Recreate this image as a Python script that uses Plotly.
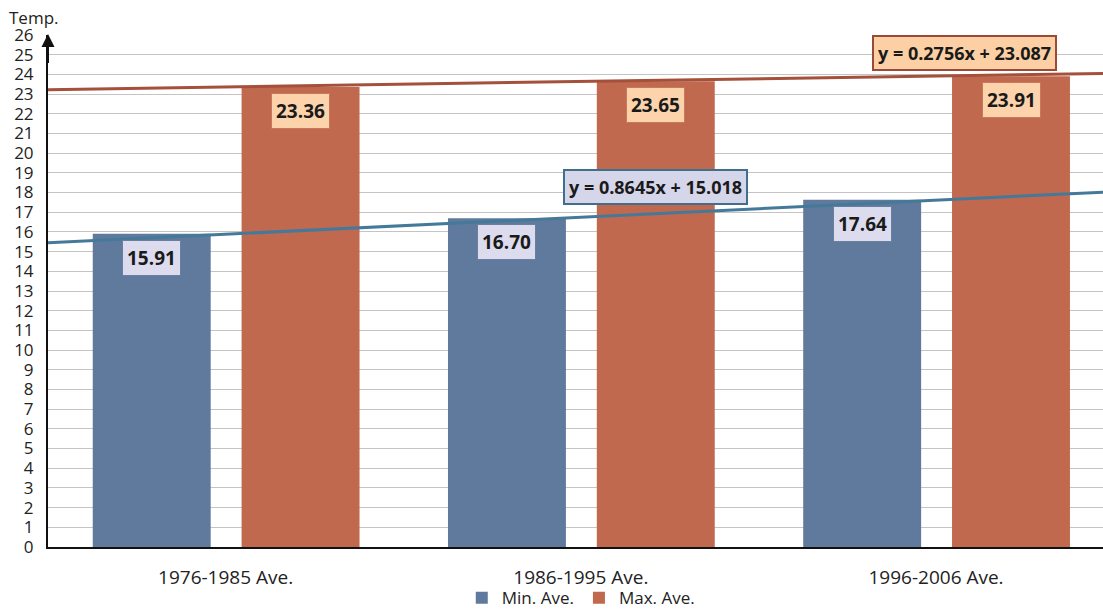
import plotly.graph_objects as go

# Period averages (temperature)
periods = ["1976-1985 Ave.", "1986-1995 Ave.", "1996-2006 Ave."]
min_ave = [15.91, 16.70, 17.64]
max_ave = [23.36, 23.65, 23.91]

# Linear trend coefficients (x = 1, 2, 3 for the three periods)
min_slope, min_icpt = 0.8645, 15.018
max_slope, max_icpt = 0.2756, 23.087

y_ticks = list(range(0, 27))

BLUE = "#5f7a9c"
RED = "#c0694f"
BLUE_LINE = "#45799a"
RED_LINE = "#a4503b"
FONT = "Open Sans"

xpos = list(range(len(periods)))
bar_w = 0.332
min_off, max_off = -0.374, 0.045

fig = go.Figure()
fig.add_trace(go.Bar(
    x=xpos, y=min_ave, name="Min. Ave.", marker_color=BLUE,
    width=bar_w, offset=min_off, marker_line_width=0,
))
fig.add_trace(go.Bar(
    x=xpos, y=max_ave, name="Max. Ave.", marker_color=RED,
    width=bar_w, offset=max_off, marker_line_width=0,
))

# Trend lines across the full plot width
tx = [-0.5, 2.6]
fig.add_trace(go.Scatter(
    x=tx, y=[min_slope * (v + 1) + min_icpt for v in tx], mode="lines",
    line=dict(color=BLUE_LINE, width=3), showlegend=False, hoverinfo="skip",
))
fig.add_trace(go.Scatter(
    x=tx, y=[max_slope * (v + 1) + max_icpt for v in tx], mode="lines",
    line=dict(color=RED_LINE, width=3), showlegend=False, hoverinfo="skip",
))

annotations = []
# Value labels just below the bar tops
for i, v in enumerate(min_ave):
    annotations.append(dict(
        x=i + min_off + bar_w / 2, y=v, xref="x", yref="y", yshift=-24,
        text=f"<b>{v:.2f}</b>", showarrow=False,
        font=dict(family=FONT, size=19, color="#1a1a1a"),
        bgcolor="#dcdcee", bordercolor="#6a7f9f", borderwidth=1, borderpad=4,
    ))
for i, v in enumerate(max_ave):
    annotations.append(dict(
        x=i + max_off + bar_w / 2, y=v, xref="x", yref="y", yshift=-24,
        text=f"<b>{v:.2f}</b>", showarrow=False,
        font=dict(family=FONT, size=19, color="#1a1a1a"),
        bgcolor="#fcd3aa", bordercolor="#c8785c", borderwidth=1, borderpad=4,
    ))

# Trend equations
annotations.append(dict(
    x=1.21, y=18.27, xref="x", yref="y",
    text=f"<b>y = {min_slope}x + {min_icpt:.3f}</b>", showarrow=False,
    font=dict(family=FONT, size=18, color="#1a1a1a"),
    bgcolor="#d6d6ea", bordercolor="#3f6f8c", borderwidth=2, borderpad=4,
))
annotations.append(dict(
    x=2.08, y=25.08, xref="x", yref="y",
    text=f"<b>y = {max_slope}x + {max_icpt:.3f}</b>", showarrow=False,
    font=dict(family=FONT, size=18, color="#1a1a1a"),
    bgcolor="#fcd0a4", bordercolor="#9c4a38", borderwidth=2, borderpad=4,
))

# Y-axis arrow
annotations.append(dict(
    x=-0.5, y=26.05, ax=-0.5, ay=24.5, xref="x", yref="y", axref="x", ayref="y",
    showarrow=True, arrowhead=2, arrowsize=1.3, arrowwidth=2, arrowcolor="#111111",
    text="",
))
# Y-axis title
annotations.append(dict(
    xref="paper", yref="paper", x=-41 / 1055, y=1 + 31 / 512,
    text="Temp.", showarrow=False,
    font=dict(family=FONT, size=17, color="#222222"),
    xanchor="left", yanchor="top",
))

fig.update_layout(
    width=1103, height=613,
    margin=dict(l=48, r=0, t=35, b=66, autoexpand=False),
    paper_bgcolor="white", plot_bgcolor="white",
    barmode="overlay",
    showlegend=True,
    legend=dict(
        orientation="h", x=0.505, xanchor="center", y=-0.1, yanchor="middle",
        font=dict(family=FONT, size=17, color="#222222"),
        bgcolor="rgba(0,0,0,0)",
        itemwidth=30, tracegroupgap=0,
    ),
    annotations=annotations,
)
fig.update_xaxes(
    range=[-0.5, 2.47], tickvals=xpos, ticktext=periods,
    tickfont=dict(family=FONT, size=19, color="#222222"),
    showgrid=False, zeroline=False, showline=True, linecolor="#111111", linewidth=2,
    ticks="", ticklabelstandoff=12,
)
fig.update_yaxes(
    range=[0, 26], tickvals=y_ticks,
    tickfont=dict(family=FONT, size=17, color="#222222"),
    showgrid=True, gridcolor="#c4c4c4", gridwidth=1, zeroline=False,
    showline=True, linecolor="#111111", linewidth=2, ticks="",
    ticklabelstandoff=9,
)

fig.write_html("out.html")
